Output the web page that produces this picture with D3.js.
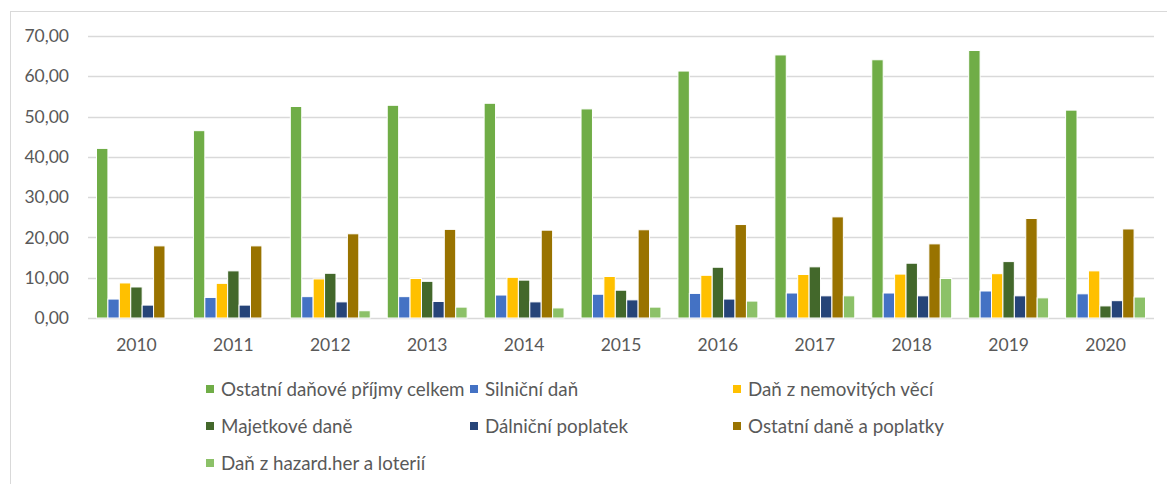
<!DOCTYPE html>
<html>
<head>
<meta charset="utf-8">
<title>Daňové příjmy</title>
<script src="https://d3js.org/d3.v7.min.js"></script>
<style>
  body { margin: 0; background: #fff; }
  text { font-family: Lato, "Open Sans", sans-serif; fill: #595959; }
</style>
</head>
<body>
<div id="vis"></div>
<script>
// data
const years = ["2010", "2011", "2012", "2013", "2014", "2015", "2016", "2017", "2018", "2019", "2020"];
const seriesNames = [
  "Ostatní daňové příjmy celkem", "Silniční daň", "Daň z nemovitých věcí",
  "Majetkové daně", "Dálniční poplatek", "Ostatní daně a poplatky", "Daň z hazard.her a loterií"
];
const ostatniCelkem = [42.1, 46.5, 52.5, 52.8, 53.3, 51.9, 61.3, 65.3, 64.1, 66.4, 51.6];
const silnicni      = [4.7, 5.1, 5.3, 5.3, 5.7, 5.9, 6.1, 6.2, 6.2, 6.7, 6.0];
const nemovitosti   = [8.7, 8.6, 9.7, 9.8, 10.1, 10.3, 10.6, 10.8, 10.9, 11.0, 11.7];
const majetkove     = [7.7, 11.7, 11.1, 9.1, 9.4, 6.9, 12.6, 12.7, 13.6, 14.0, 3.0];
const dalnicni      = [3.2, 3.2, 4.0, 4.1, 4.0, 4.5, 4.7, 5.5, 5.5, 5.5, 4.3];
const ostatniDane   = [17.9, 17.9, 20.9, 22.0, 21.8, 21.9, 23.2, 25.1, 18.4, 24.7, 22.1];
const hazard        = [0, 0, 1.8, 2.7, 2.5, 2.7, 4.2, 5.5, 9.8, 5.0, 5.2];
const yTicks = [0, 10, 20, 30, 40, 50, 60, 70];

const seriesValues = [ostatniCelkem, silnicni, nemovitosti, majetkove, dalnicni, ostatniDane, hazard];
const colors = ["#70AD47", "#4472C4", "#FFC000", "#43682B", "#264478", "#997300", "#8CC168"];

const width = 1167, height = 484;
const svg = d3.select("#vis").append("svg")
  .attr("width", width).attr("height", height);

// chart frame
svg.append("rect")
  .attr("x", 10.5).attr("y", 11.5)
  .attr("width", width + 10).attr("height", height + 10)
  .attr("fill", "none").attr("stroke", "#D9D9D9");

const x = d3.scaleBand().domain(years).range([88, 1154]).paddingInner(0).paddingOuter(0);
const inner = d3.scaleBand().domain(d3.range(7)).range([8.5, x.bandwidth() - 8.5]);
const y = d3.scaleLinear().domain([0, 70]).range([318, 36]);

// gridlines
svg.append("g").selectAll("line")
  .data(yTicks).join("line")
  .attr("x1", 88).attr("x2", 1154)
  .attr("y1", d => Math.round(y(d)) + 0.5).attr("y2", d => Math.round(y(d)) + 0.5)
  .attr("stroke", "#D9D9D9").attr("stroke-width", 1.3);

// y labels
svg.append("g").selectAll("text")
  .data(yTicks).join("text")
  .attr("x", 69).attr("y", d => y(d))
  .attr("dy", "0.35em").attr("text-anchor", "end")
  .style("font-size", "17.5px")
  .text(d => d3.format(".2f")(d).replace(".", ","));

// bars
const groups = svg.append("g").selectAll("g")
  .data(years).join("g")
  .attr("transform", d => `translate(${x(d)},0)`);

groups.selectAll("rect")
  .data((d, i) => seriesValues.map((s, k) => ({ k: k, v: s[i] })).filter(e => e.v > 0))
  .join("rect")
  .attr("x", d => inner(d.k))
  .attr("width", inner.bandwidth())
  .attr("y", d => y(d.v))
  .attr("height", d => y(0) - y(d.v))
  .attr("fill", d => colors[d.k])
  .attr("stroke", "#fff").attr("stroke-width", 1);

// x labels
svg.append("g").selectAll("text")
  .data(years).join("text")
  .attr("x", d => x(d) + x.bandwidth() / 2)
  .attr("y", 345)
  .attr("dy", "0.35em")
  .attr("text-anchor", "middle")
  .style("font-size", "17.5px")
  .text(d => d);

// legend
const legX = [206, 470, 733];
const legY = [389, 426, 463];
const leg = svg.append("g").selectAll("g")
  .data(seriesNames).join("g")
  .attr("transform", (d, i) => `translate(${legX[i % 3]},${legY[Math.floor(i / 3)]})`);
leg.append("rect")
  .attr("x", 0).attr("y", -4).attr("width", 8).attr("height", 8)
  .attr("fill", (d, i) => colors[i]);
leg.append("text")
  .attr("x", 15).attr("y", 0).attr("dy", "0.35em")
  .style("font-size", "18.8px")
  .text(d => d);
</script>
</body>
</html>
